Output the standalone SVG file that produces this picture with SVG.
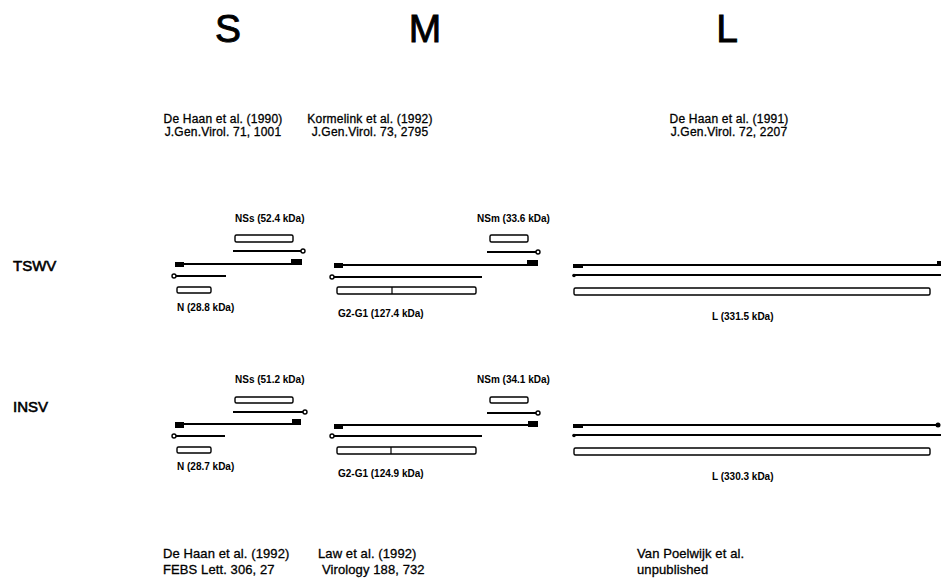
<svg xmlns="http://www.w3.org/2000/svg" width="941" height="583" viewBox="0 0 941 583">
  <style>
    text { font-family: "Liberation Sans", Arial, sans-serif; fill: #000; }
    .seg { font-size: 39px; text-anchor: middle; stroke: #000; stroke-width: 0.9; }
    .cite { font-size: 12px; letter-spacing: 0.2px; text-anchor: middle; stroke: #000; stroke-width: 0.3; }
    .cite2 { font-size: 13px; letter-spacing: 0.1px; stroke: #000; stroke-width: 0.3; }
    .virus { font-size: 15px; stroke: #000; stroke-width: 0.6; }
    .prot { font-size: 10px; font-weight: bold; }
    .rna { stroke: #000; stroke-width: 1.8; fill: none; }
    .orf { stroke: #000; stroke-width: 1.4; fill: #fff; }
    .cap { fill: #000; }
    .tail { stroke: #000; stroke-width: 1.4; fill: #fff; }
  </style>

  <!-- segment headers -->
  <g id="headers">
    <text class="seg" x="228" y="42">S</text>
    <text class="seg" x="425" y="42">M</text>
    <text class="seg" x="727" y="42">L</text>
  </g>

  <!-- TSWV references -->
  <g id="refs-tswv">
    <text class="cite" x="223" y="123">De Haan et al. (1990)</text>
    <text class="cite" x="223" y="136">J.Gen.Virol. 71, 1001</text>
    <text class="cite" x="370" y="123">Kormelink et al. (1992)</text>
    <text class="cite" x="370" y="136">J.Gen.Virol. 73, 2795</text>
    <text class="cite" x="729" y="123">De Haan et al. (1991)</text>
    <text class="cite" x="729" y="136">J.Gen.Virol. 72, 2207</text>
  </g>

  <!-- INSV references -->
  <g id="refs-insv">
    <text class="cite2" x="163" y="558">De Haan et al. (1992)</text>
    <text class="cite2" x="163" y="574">FEBS Lett. 306, 27</text>
    <text class="cite2" x="318" y="558">Law et al. (1992)</text>
    <text class="cite2" x="322" y="574">Virology 188, 732</text>
    <text class="cite2" x="637" y="558">Van Poelwijk et al.</text>
    <text class="cite2" x="637" y="574">unpublished</text>
  </g>

  <!-- virus labels -->
  <g id="virus-labels">
    <text class="virus" x="13" y="271">TSWV</text>
    <text class="virus" x="13" y="412">INSV</text>
  </g>

  <!-- TSWV S RNA -->
  <g id="tswv-s">
    <text class="prot" x="235" y="222">NSs (52.4 kDa)</text>
    <rect class="orf" x="235" y="235" width="58" height="7" rx="1.5"/>
    <line class="rna" x1="233" y1="251" x2="301" y2="251"/>
    <circle class="tail" cx="303" cy="251" r="2"/>
    <line class="rna" x1="180" y1="264" x2="296" y2="264"/>
    <rect class="cap" x="175" y="262" width="9" height="5"/>
    <rect class="cap" x="291" y="259" width="11" height="6"/>
    <circle class="tail" cx="174" cy="276" r="2"/>
    <line class="rna" x1="176" y1="276" x2="226" y2="276"/>
    <rect class="orf" x="177" y="287" width="34" height="6" rx="1.5"/>
    <text class="prot" x="177" y="311">N (28.8 kDa)</text>
  </g>

  <!-- TSWV M RNA -->
  <g id="tswv-m">
    <text class="prot" x="477" y="222">NSm (33.6 kDa)</text>
    <rect class="orf" x="490" y="235" width="38" height="7" rx="1.5"/>
    <line class="rna" x1="487" y1="252" x2="536" y2="252"/>
    <circle class="tail" cx="538" cy="252" r="2"/>
    <line class="rna" x1="338" y1="265" x2="530" y2="265"/>
    <rect class="cap" x="334" y="263" width="9" height="5"/>
    <rect class="cap" x="527" y="260" width="11" height="6"/>
    <circle class="tail" cx="332" cy="277" r="2"/>
    <line class="rna" x1="334" y1="277" x2="482" y2="277"/>
    <rect class="orf" x="337" y="287" width="139" height="7" rx="1.5"/>
    <line class="rna" x1="392" y1="287" x2="392" y2="294" style="stroke-width:1.2"/>
    <text class="prot" x="338" y="317">G2-G1 (127.4 kDa)</text>
  </g>

  <!-- TSWV L RNA -->
  <g id="tswv-l">
    <line class="rna" x1="578" y1="265" x2="938" y2="265"/>
    <rect class="cap" x="573" y="264" width="10" height="4"/>
    <rect class="cap" x="937" y="261" width="4" height="5"/>
    <line class="rna" x1="575" y1="275" x2="941" y2="275"/>
    <circle class="cap" cx="574" cy="275.5" r="1.8"/>
    <rect class="orf" x="574" y="288" width="356" height="7" rx="1.5"/>
    <text class="prot" x="712" y="320">L (331.5 kDa)</text>
  </g>

  <!-- INSV S RNA -->
  <g id="insv-s">
    <text class="prot" x="235" y="383">NSs (51.2 kDa)</text>
    <rect class="orf" x="235" y="397" width="58" height="6" rx="1.5"/>
    <line class="rna" x1="233" y1="412" x2="303" y2="412"/>
    <circle class="tail" cx="305" cy="412" r="2"/>
    <line class="rna" x1="180" y1="424" x2="296" y2="424"/>
    <rect class="cap" x="175" y="422" width="9" height="6"/>
    <rect class="cap" x="292" y="419" width="9" height="6"/>
    <circle class="tail" cx="174" cy="436" r="2"/>
    <line class="rna" x1="176" y1="436" x2="225" y2="436"/>
    <rect class="orf" x="177" y="447" width="34" height="6" rx="1.5"/>
    <text class="prot" x="177" y="470">N (28.7 kDa)</text>
  </g>

  <!-- INSV M RNA -->
  <g id="insv-m">
    <text class="prot" x="477" y="383">NSm (34.1 kDa)</text>
    <rect class="orf" x="490" y="397" width="38" height="6" rx="1.5"/>
    <line class="rna" x1="487" y1="413" x2="536" y2="413"/>
    <circle class="tail" cx="538" cy="413" r="2"/>
    <line class="rna" x1="338" y1="425" x2="530" y2="425"/>
    <rect class="cap" x="334" y="424" width="9" height="5"/>
    <rect class="cap" x="528" y="421" width="10" height="6"/>
    <circle class="tail" cx="332" cy="436" r="2"/>
    <line class="rna" x1="334" y1="436" x2="482" y2="436"/>
    <rect class="orf" x="337" y="447" width="139" height="7" rx="1.5"/>
    <line class="rna" x1="391" y1="447" x2="391" y2="454" style="stroke-width:1.2"/>
    <text class="prot" x="338" y="477">G2-G1 (124.9 kDa)</text>
  </g>

  <!-- INSV L RNA -->
  <g id="insv-l">
    <line class="rna" x1="578" y1="425" x2="938" y2="425"/>
    <rect class="cap" x="573" y="424" width="10" height="4"/>
    <circle class="cap" cx="938" cy="425" r="2.5"/>
    <line class="rna" x1="575" y1="435" x2="941" y2="435"/>
    <circle class="cap" cx="574" cy="435.5" r="1.8"/>
    <rect class="orf" x="574" y="448" width="356" height="7" rx="1.5"/>
    <text class="prot" x="712" y="480">L (330.3 kDa)</text>
  </g>
</svg>
